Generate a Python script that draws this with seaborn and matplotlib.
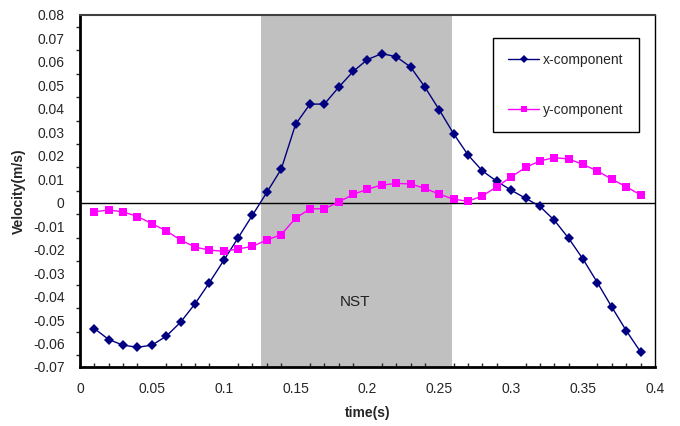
import numpy as np
import pandas as pd
import seaborn as sns
import matplotlib.pyplot as plt
from matplotlib.ticker import MultipleLocator, FuncFormatter

# data
time_s = [0.01, 0.02, 0.03, 0.04, 0.05, 0.06, 0.07, 0.08, 0.09, 0.10,
          0.11, 0.12, 0.13, 0.14, 0.15, 0.16, 0.17, 0.18, 0.19, 0.20,
          0.21, 0.22, 0.23, 0.24, 0.25, 0.26, 0.27, 0.28, 0.29, 0.30,
          0.31, 0.32, 0.33, 0.34, 0.35, 0.36, 0.37, 0.38, 0.39]
x_comp = [-0.0536, -0.0583, -0.0607, -0.0616, -0.0607, -0.0569, -0.0509, -0.0431, -0.0341, -0.0246,
          -0.0150, -0.0053, 0.0044, 0.0143, 0.0334, 0.0420, 0.0420, 0.0492, 0.0559, 0.0610,
          0.0635, 0.0622, 0.0578, 0.0492, 0.0395, 0.0293, 0.0203, 0.0135, 0.0091, 0.0053,
          0.0019, -0.0016, -0.0075, -0.0152, -0.0241, -0.0341, -0.0445, -0.0545, -0.0636]
y_comp = [-0.0039, -0.0031, -0.0039, -0.0059, -0.0089, -0.0120, -0.0159, -0.0189, -0.0202, -0.0207,
          -0.0197, -0.0186, -0.0159, -0.0136, -0.0066, -0.0026, -0.0026, 0.0003, 0.0035, 0.0058,
          0.0075, 0.0082, 0.0080, 0.0061, 0.0036, 0.0015, 0.0006, 0.0029, 0.0068, 0.0110,
          0.0150, 0.0178, 0.0192, 0.0186, 0.0163, 0.0135, 0.0100, 0.0068, 0.0033]
nst_start, nst_end = 0.126, 0.259

df = pd.DataFrame({'time': time_s, 'x-component': x_comp, 'y-component': y_comp})
df_long = df.melt(id_vars='time', var_name='component', value_name='velocity')

sns.set_style('white')
plt.rcParams['font.family'] = ['Liberation Sans', 'DejaVu Sans']

fig = plt.figure(figsize=(6.8, 4.26), dpi=100)
ax = fig.add_axes([0.1176, 0.1385, 0.8456, 0.8265])

ax.axvspan(nst_start, nst_end, color='#c0c0c0', lw=0, zorder=0)
ax.axhline(0, color='black', lw=1, zorder=1)

sns.lineplot(data=df_long, x='time', y='velocity', hue='component', style='component',
             palette={'x-component': '#000080', 'y-component': '#ff00ff'},
             markers={'x-component': 'D', 'y-component': 's'},
             dashes=False, markersize=5, markeredgewidth=0, lw=1, ax=ax, zorder=3)
# squares a bit larger than diamonds
for ln in ax.lines:
    if ln.get_marker() == 's':
        ln.set_markersize(5.5)

ax.set_xlim(0, 0.4)
ax.set_ylim(-0.07, 0.08)
ax.xaxis.set_major_locator(MultipleLocator(0.05))
ax.xaxis.set_minor_locator(MultipleLocator(0.01))
ax.yaxis.set_major_locator(MultipleLocator(0.01))
ax.yaxis.set_minor_locator(MultipleLocator(0.005))
ax.xaxis.set_major_formatter(FuncFormatter(lambda v, p: '0' if abs(v) < 1e-9 else '%g' % round(v, 3)))
ax.yaxis.set_major_formatter(FuncFormatter(lambda v, p: '0' if abs(v) < 1e-9 else '%g' % round(v, 3)))

ax.tick_params(axis='both', which='major', labelsize=10, width=1, color='black')
ax.tick_params(axis='x', which='major', direction='inout', length=6, pad=8)
ax.tick_params(axis='x', which='minor', direction='in', length=3, width=1, bottom=True)
ax.tick_params(axis='y', which='major', direction='out', length=5, pad=6)
ax.tick_params(axis='y', which='minor', direction='out', length=3, width=1, left=True)

for side in ['left', 'bottom']:
    ax.spines[side].set_color('black')
    ax.spines[side].set_linewidth(2)
ax.spines['top'].set_color('#404040')
ax.spines['top'].set_linewidth(1.5)
ax.spines['right'].set_color('black')
ax.spines['right'].set_linewidth(1)

ax.set_xlabel('time(s)', fontsize=10, fontweight='bold', labelpad=7)
ax.set_ylabel('Velocity(m/s)', fontsize=10, fontweight='bold', labelpad=5)

ax.text(0.191, -0.0425, 'NST', fontsize=11, ha='center', va='center', color='#202020')

leg = ax.legend(loc='upper right', bbox_to_anchor=(0.972, 0.935), fontsize=10, frameon=True,
                fancybox=False, edgecolor='black', framealpha=1, labelspacing=2.6,
                handlelength=2.2, handletextpad=0.3, borderpad=1.1, borderaxespad=0,
                markerscale=0.8)
leg.get_frame().set_linewidth(1)

fig.savefig('out.png', dpi=100)
